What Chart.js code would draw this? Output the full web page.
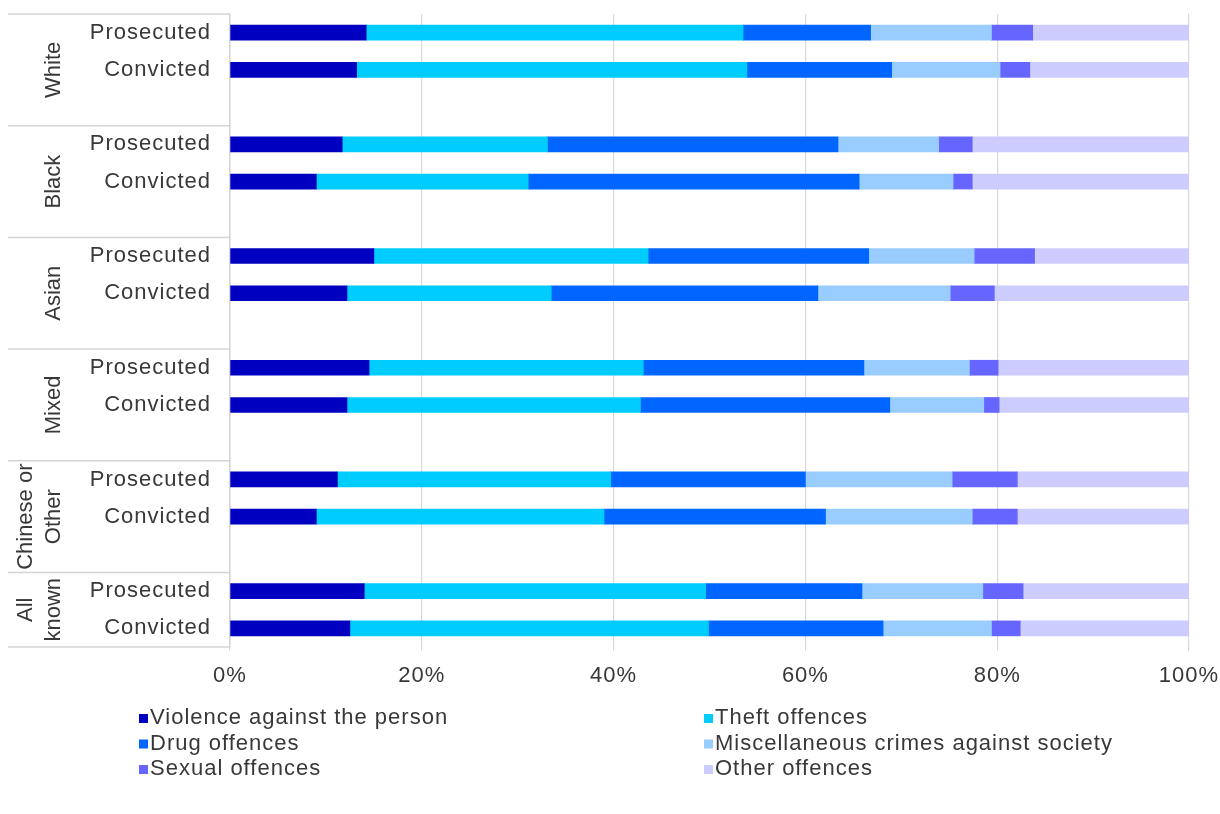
<!DOCTYPE html>
<html>
<head>
<meta charset="utf-8">
<script src="https://cdn.jsdelivr.net/npm/chart.js@4/dist/chart.umd.min.js"></script>
<style>
  html, body { margin: 0; padding: 0; background: #fff; }
  #wrap { width: 1220px; height: 814px; }
</style>
</head>
<body>
<div id="wrap"><canvas id="grafico"></canvas></div>
<script>
// Grupos étnicos e etapas (cada grupo tem Prosecuted / Convicted)
const grupos = ['White', 'Black', 'Asian', 'Mixed', ['Chinese or', 'Other'], ['All', 'known']];
const etapas = ['Prosecuted', 'Convicted'];

// Percentuais, na ordem: White P, White C, Black P, Black C, ...
const violencia = [14.2, 13.2, 11.7, 9.0, 15.0, 12.2, 14.5, 12.2, 11.2, 9.0, 14.0, 12.5];
const furto     = [39.3, 40.7, 21.4, 22.1, 28.6, 21.3, 28.6, 30.6, 28.5, 30.0, 35.6, 37.4];
const drogas    = [13.3, 15.1, 30.3, 34.5, 23.0, 27.8, 23.0, 26.0, 20.3, 23.1, 16.3, 18.2];
const diversos  = [12.6, 11.3, 10.5, 9.8, 11.0, 13.8, 11.0, 9.8, 15.3, 15.3, 12.6, 11.3];
const sexuais   = [4.3, 3.1, 3.5, 2.0, 6.3, 4.6, 3.0, 1.6, 6.8, 4.7, 4.2, 3.0];
const outros    = [16.3, 16.6, 22.6, 22.6, 16.1, 20.3, 19.9, 19.8, 17.9, 17.9, 17.3, 17.6];

const series = [
    { nome: 'Violence against the person', valores: violencia, cor: '#0000C0' },
    { nome: 'Theft offences', valores: furto, cor: '#00CCFF' },
    { nome: 'Drug offences', valores: drogas, cor: '#0066FF' },
    { nome: 'Miscellaneous crimes against society', valores: diversos, cor: '#99CCFF' },
    { nome: 'Sexual offences', valores: sexuais, cor: '#6666FF' },
    { nome: 'Other offences', valores: outros, cor: '#CCCCFF' }
];

const FONTE = '"Liberation Sans", Arial, sans-serif';
const COR_TEXTO = '#383838';
const COR_LINHA = '#d4d4d4';
const ESPACO_LETRAS = '1px';

// Linhas do eixo: Prosecuted, Convicted e uma linha vazia entre grupos
const rotulos = [];
grupos.forEach((g, i) => {
    etapas.forEach((e) => rotulos.push(e));
    if (i < grupos.length - 1) rotulos.push('');
});

function comLacunas(valores) {
    const out = [];
    let k = 0;
    grupos.forEach((g, i) => {
        etapas.forEach(() => out.push(valores[k++]));
        if (i < grupos.length - 1) out.push(null);
    });
    return out;
}

// O texto do original é um pouco espaçado; o canvas perde isso a cada resize
const pluginEspaco = {
    id: 'espacoLetras',
    beforeUpdate(chart) { chart.ctx.letterSpacing = ESPACO_LETRAS; },
    beforeDraw(chart) { chart.ctx.letterSpacing = ESPACO_LETRAS; }
};

// Rótulos dos grupos (texto girado) e linhas separadoras à esquerda
const pluginGrupos = {
    id: 'grupos',
    afterDraw(chart) {
        const ctx = chart.ctx;
        const y = chart.scales.y;
        const area = chart.chartArea;
        const passo = y.getPixelForValue(1) - y.getPixelForValue(0);

        ctx.save();
        ctx.letterSpacing = '0px';
        ctx.strokeStyle = COR_LINHA;
        ctx.lineWidth = 1.5;
        let inicio = 0;
        grupos.forEach((g, i) => {
            const n = i < grupos.length - 1 ? 3 : 2;
            const topo = y.getPixelForValue(inicio) - passo / 2;
            const base = y.getPixelForValue(inicio + n - 1) + passo / 2;

            ctx.beginPath();
            ctx.moveTo(8, topo);
            ctx.lineTo(area.left, topo);
            ctx.stroke();
            if (i === grupos.length - 1) {
                ctx.beginPath();
                ctx.moveTo(8, base);
                ctx.lineTo(area.left, base);
                ctx.stroke();
            }

            const linhas = Array.isArray(g) ? g : [g];
            const meio = (topo + base) / 2;
            ctx.fillStyle = COR_TEXTO;
            ctx.font = '22px ' + FONTE;
            ctx.textAlign = 'center';
            ctx.textBaseline = 'middle';
            linhas.forEach((txt, j) => {
                const x = 54 - (linhas.length - 1 - j) * 28;
                ctx.save();
                ctx.translate(x, meio);
                ctx.rotate(-Math.PI / 2);
                ctx.fillText(txt, 0, 0);
                ctx.restore();
            });
            inicio += n;
        });
        ctx.restore();
    }
};

// Legenda em duas colunas, como no original
const pluginLegenda = {
    id: 'legendaColunas',
    afterDraw(chart) {
        const ctx = chart.ctx;
        const base = chart.chartArea.bottom;
        const colunas = [139, 704];
        ctx.save();
        ctx.font = '22px ' + FONTE;
        ctx.textAlign = 'left';
        ctx.textBaseline = 'middle';
        chart.data.datasets.forEach((ds, i) => {
            const x = colunas[i % 2];
            const yy = base + 71 + Math.floor(i / 2) * 25.5;
            ctx.fillStyle = ds.backgroundColor;
            ctx.fillRect(x, yy - 4, 9, 9);
            ctx.fillStyle = COR_TEXTO;
            ctx.fillText(ds.label, x + 11, yy);
        });
        ctx.restore();
    }
};

new Chart(document.getElementById('grafico'), {
    type: 'bar',
    data: {
        labels: rotulos,
        datasets: series.map((s) => ({
            label: s.nome,
            data: comLacunas(s.valores),
            backgroundColor: s.cor,
            borderWidth: 0,
            barThickness: 15
        }))
    },
    options: {
        indexAxis: 'y',
        responsive: true,
        maintainAspectRatio: false,
        animation: false,
        layout: { padding: { top: 14, right: 31, left: 0, bottom: 0 } },
        plugins: {
            legend: { display: false },
            tooltip: { enabled: false }
        },
        scales: {
            x: {
                stacked: true,
                min: 0,
                max: 100,
                border: { display: false },
                grid: { color: '#d9d9d9', lineWidth: 1.2, tickLength: 4 },
                ticks: {
                    stepSize: 20,
                    padding: 12,
                    color: COR_TEXTO,
                    font: { family: FONTE, size: 22 },
                    callback: (v) => v + '%'
                },
                afterFit: (scale) => {
                    scale.height = 167;
                    scale.paddingLeft = 0;
                    scale.paddingRight = 0;
                }
            },
            y: {
                stacked: true,
                grid: { display: false, drawTicks: false },
                border: { display: true, color: COR_LINHA, width: 1.5 },
                ticks: {
                    padding: 19,
                    color: COR_TEXTO,
                    font: { family: FONTE, size: 22 },
                    autoSkip: false
                },
                afterFit: (scale) => {
                    scale.width = 230;
                    scale.paddingTop = 0;
                    scale.paddingBottom = 0;
                }
            }
        }
    },
    plugins: [pluginEspaco, pluginGrupos, pluginLegenda]
});
</script>
</body>
</html>
